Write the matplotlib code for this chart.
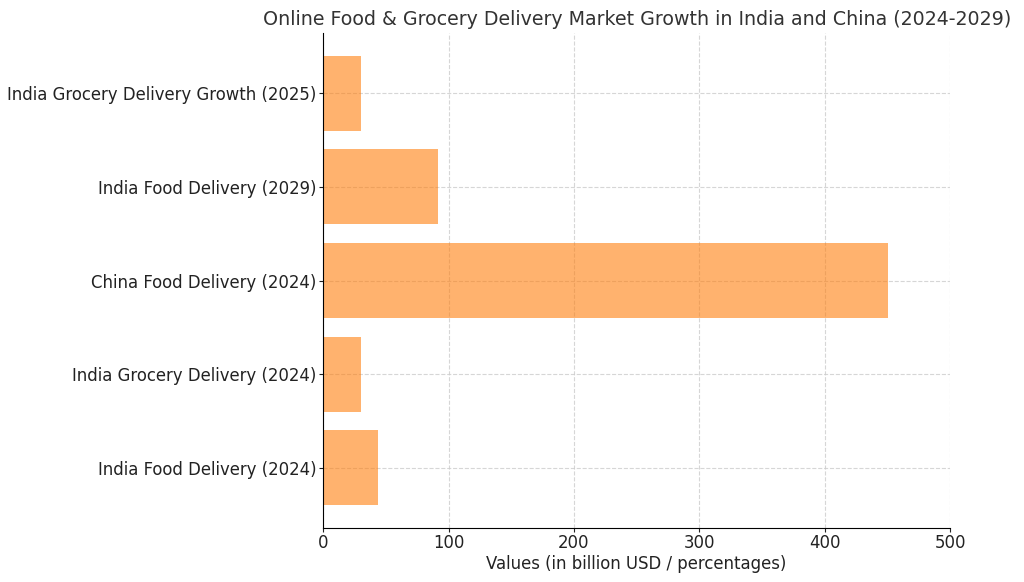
import matplotlib

matplotlib.use("Agg")
import matplotlib.pyplot as plt

categories = [
    "India Food Delivery (2024)",
    "India Grocery Delivery (2024)",
    "China Food Delivery (2024)",
    "India Food Delivery (2029)",
    "India Grocery Delivery Growth (2025)",
]
values = [44, 30, 450, 92, 30]
x_ticks = [0, 100, 200, 300, 400, 500]

fig, ax = plt.subplots(figsize=(10.24, 5.82), dpi=100)
fig.subplots_adjust(left=0.3155, right=0.928, top=0.943, bottom=0.093)

ax.barh(categories, values, color="#ff7f0e", alpha=0.6, height=0.8)
ax.set_xlim(0, 500)
ax.set_xticks(x_ticks)
ax.set_axisbelow(True)
ax.grid(True, linestyle="--", color="#cccccc", linewidth=0.8, alpha=0.8)
for side in ("top", "right"):
    ax.spines[side].set_visible(False)
ax.tick_params(labelsize=11.9, colors="#222222", length=3, pad=1.5)
ax.set_xlabel("Values (in billion USD / percentages)", fontsize=11.9, color="#222222", labelpad=2)
ax.set_title("Online Food & Grocery Delivery Market Growth in India and China (2024-2029)",
             fontsize=13.7, color="#333333")

fig.savefig("out.png", dpi=100)
